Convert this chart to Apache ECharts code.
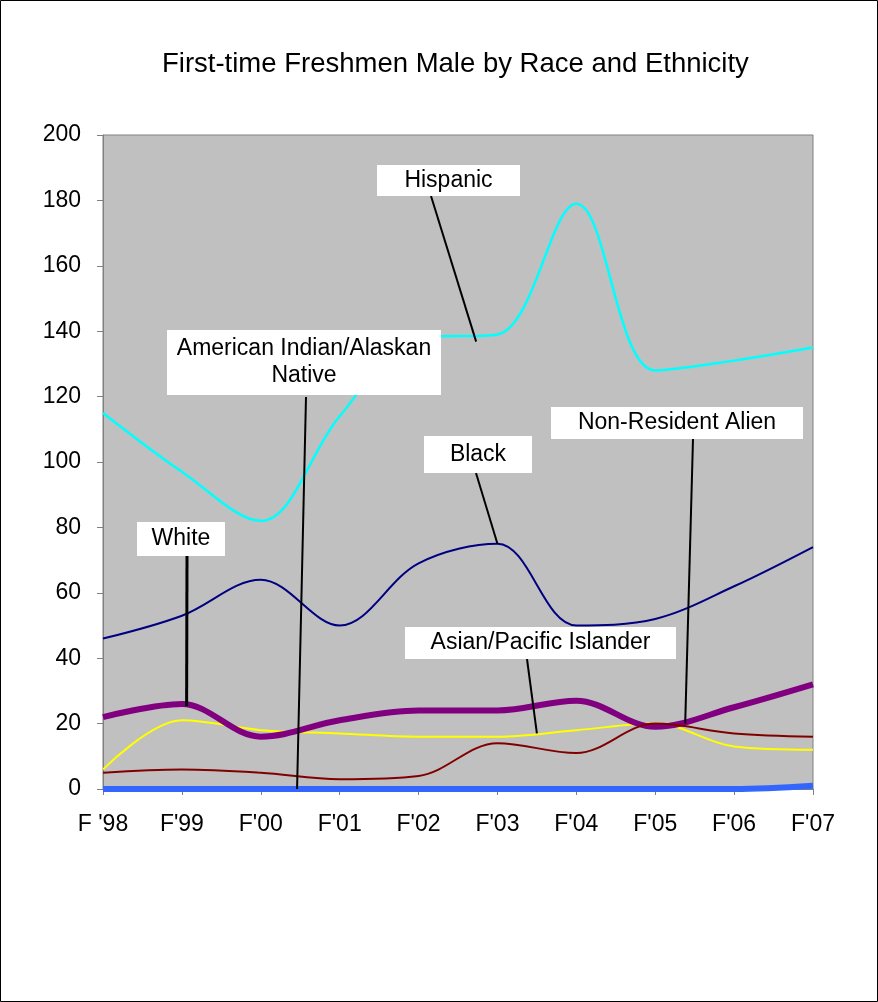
<!DOCTYPE html>
<html>
<head>
<meta charset="utf-8">
<script src="https://cdn.jsdelivr.net/npm/echarts@6/dist/echarts.min.js"></script>
<style>
html,body{margin:0;padding:0;background:#fff;}
#c{width:878px;height:1002px;box-sizing:border-box;}
</style>
</head>
<body>
<div id="c"></div>
<script>
var categories = ["F '98","F'99","F'00","F'01","F'02","F'03","F'04","F'05","F'06","F'07"];
var hispanic  = [115, 97, 82, 114, 138, 139, 179, 128, 131, 135];
var black     = [46, 53, 64, 50, 69, 75, 50, 52, 62, 74];
var asianPI   = [6, 21, 18, 17, 16, 16, 18, 20, 13, 12];
var white     = [22, 26, 16, 21, 24, 24, 27, 19, 25, 32];
var nonResAlien = [5, 6, 5, 3, 4, 14, 11, 20, 17, 16];
var amIndian  = [0, 0, 0, 0, 0, 0, 0, 0, 0, 1];
var yTicks = [0, 20, 40, 60, 80, 100, 120, 140, 160, 180, 200];

// callouts: text, anchor (category index, value), box (pixel layout)
var callouts = [
  {text: "Hispanic", idx: 4.73, val: 136.8, box: [377, 165, 143, 31], w: 2},
  {text: "American Indian/Alaskan\nNative", idx: 2.46, val: 0, box: [167, 330, 274, 65], w: 2},
  {text: "Black", idx: 5.0, val: 75, box: [424, 436, 108, 37], w: 2},
  {text: "Non-Resident Alien", idx: 7.38, val: 20, box: [551, 407, 252, 32], w: 2},
  {text: "Asian/Pacific Islander", idx: 5.5, val: 17, box: [405, 627, 271, 32], w: 2},
  {text: "White", idx: 1.06, val: 25.3, box: [137, 522, 88, 34], w: 3}
];
var leaderStart = [[431,196],[306,397],[476,473],[693,439],[527,659],[187,556]];

var FONT = "'Liberation Sans', Arial, sans-serif";
var chart = echarts.init(document.getElementById('c'));

function mk(name, data, color, width, z){
  return {name:name, type:'line', data:data, smooth:0.35, symbol:'none', z:z,
    lineStyle:{color:color, width:width}, itemStyle:{color:color}};
}

chart.setOption({
  backgroundColor:'#fff',
  animation:false,
  title:{text:'First-time Freshmen Male by Race and Ethnicity', left:157, top:45,
    textStyle:{fontFamily:FONT, fontSize:27.5, fontWeight:'normal', color:'#000'}},
  grid:{left:103, right:65, top:135, bottom:213, show:true, backgroundColor:'#C0C0C0', borderColor:'#808080', borderWidth:1},
  xAxis:{type:'category', data:categories, boundaryGap:false,
    axisLine:{lineStyle:{color:'#808080'}},
    axisTick:{show:true, length:6, inside:false, lineStyle:{color:'#808080'}},
    axisLabel:{fontFamily:FONT, fontSize:23, color:'#000', margin:24}},
  yAxis:{type:'value', min:yTicks[0], max:yTicks[yTicks.length-1], interval:20,
    splitLine:{show:false},
    axisLine:{show:true, lineStyle:{color:'#808080'}},
    axisTick:{show:true, length:6, lineStyle:{color:'#808080'}},
    axisLabel:{fontFamily:FONT, fontSize:23, color:'#000', margin:22}},
  series:[
    mk('Hispanic', hispanic, '#00FFFF', 2.5, 2),
    mk('Black', black, '#000080', 2, 3),
    mk('Asian/Pacific Islander', asianPI, '#FFFF00', 2, 4),
    mk('White', white, '#800080', 6, 5),
    mk('Non-Resident Alien', nonResAlien, '#800000', 2, 6),
    mk('American Indian/Alaskan Native', amIndian, '#3366FF', 6, 7)
  ]
});

function px(idx, val){
  var i0 = Math.floor(idx), i1 = Math.min(i0+1, categories.length-1);
  var x0 = chart.convertToPixel({xAxisIndex:0}, categories[i0]);
  var x1 = chart.convertToPixel({xAxisIndex:0}, categories[i1]);
  var x = x0 + (x1-x0)*(idx-i0);
  var y = chart.convertToPixel({yAxisIndex:0}, val);
  return [x, y];
}

var g = [{type:'rect', shape:{x:0.5,y:0.5,width:877,height:1001}, style:{fill:'none', stroke:'#000', lineWidth:1}, z:100}];
callouts.forEach(function(c, k){
  var end = px(c.idx, c.val);
  var s = leaderStart[k];
  g.push({type:'line', shape:{x1:s[0], y1:s[1], x2:end[0], y2:end[1]}, style:{stroke:'#000', lineWidth:c.w}, z:100});
  g.push({type:'rect', shape:{x:c.box[0], y:c.box[1], width:c.box[2], height:c.box[3]}, style:{fill:'#fff', stroke:null}, z:101});
  g.push({type:'text', x:c.box[0]+c.box[2]/2, y:c.box[1]+c.box[3]/2, z:102,
    style:{text:c.text, fontFamily:FONT, fontSize:23, fill:'#000', align:'center', verticalAlign:'middle', lineHeight:27}});
});
chart.setOption({graphic:g});
</script>
</body>
</html>
